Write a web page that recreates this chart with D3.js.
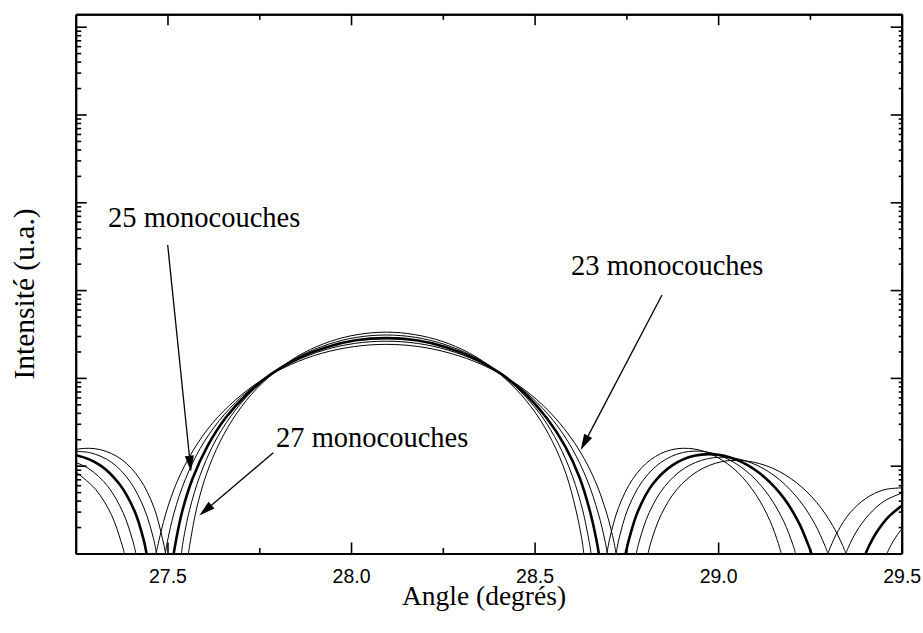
<!DOCTYPE html>
<html><head><meta charset="utf-8">
<script src="https://cdn.jsdelivr.net/npm/d3@7/dist/d3.min.js"></script>
<style>body{margin:0;background:#fff}</style>
</head><body><svg id="c" width="923" height="633"></svg>
<script>
// ---- data (angle in degrees, intensity in arbitrary units), one array of lobes per film thickness ----
const layers=[23,24,25,26,27];
const I23=[
 [[27.248,8.64],[27.304,5.39],[27.347,2.78],[27.373,1.39],[27.383,1]],
 [[27.469,1],[27.476,1.36],[27.495,2.81],[27.526,6.55],[27.569,14.7],[27.622,30.3],[27.686,56.5],[27.757,94.7],[27.836,142],[27.919,190],[28.007,227],[28.096,241],[28.185,227],[28.272,190],[28.356,142],[28.434,94.7],[28.506,56.5],[28.569,30.3],[28.623,14.7],[28.666,6.55],[28.697,2.81],[28.716,1.36],[28.722,1]],
 [[28.809,1],[28.818,1.39],[28.845,2.78],[28.888,5.39],[28.944,8.64],[29.009,11.1],[29.078,11.3],[29.148,9.37],[29.213,6.42],[29.269,3.79],[29.312,2.08],[29.339,1.24],[29.348,1]]
];
const I24=[
 [[27.221,12],[27.284,9.35],[27.338,5.77],[27.379,2.92],[27.405,1.42],[27.414,1]],
 [[27.494,1],[27.5,1.38],[27.518,2.91],[27.548,6.89],[27.589,15.7],[27.641,32.6],[27.702,61],[27.77,103],[27.846,154],[27.926,207],[28.01,247],[28.096,262],[28.181,247],[28.265,207],[28.346,154],[28.421,103],[28.49,61],[28.551,32.6],[28.602,15.7],[28.643,6.89],[28.673,2.91],[28.692,1.38],[28.698,1]],
 [[28.777,1],[28.786,1.42],[28.812,2.92],[28.854,5.77],[28.908,9.35],[28.971,12],[29.038,12.3],[29.106,10.1],[29.168,6.88],[29.222,4],[29.264,2.15],[29.29,1.25],[29.299,1]],
 [[29.46,1],[29.467,1.16],[29.489,1.65],[29.524,2.47]]
];
const I25=[
 [[27.191,13.3],[27.256,13],[27.317,10.1],[27.369,6.18],[27.41,3.06],[27.435,1.44],[27.443,1]],
 [[27.517,1],[27.523,1.39],[27.54,3.01],[27.569,7.25],[27.609,16.7],[27.658,34.9],[27.717,65.6],[27.783,111],[27.855,167],[27.933,224],[28.013,268],[28.096,284],[28.178,268],[28.259,224],[28.336,167],[28.409,111],[28.475,65.6],[28.533,34.9],[28.583,16.7],[28.623,7.25],[28.651,3.01],[28.669,1.39],[28.675,1]],
 [[28.748,1],[28.757,1.44],[28.782,3.06],[28.822,6.18],[28.875,10.1],[28.935,13],[29.001,13.3],[29.066,10.9],[29.127,7.35],[29.18,4.22],[29.22,2.23],[29.245,1.27],[29.254,1]],
 [[29.402,1],[29.409,1.17],[29.43,1.7],[29.464,2.61],[29.509,3.71]]
];
const I26=[
 [[27.225,14.4],[27.288,14.1],[27.348,10.9],[27.398,6.59],[27.437,3.21],[27.462,1.47],[27.47,1]],
 [[27.538,1],[27.543,1.41],[27.56,3.11],[27.588,7.61],[27.626,17.7],[27.674,37.3],[27.73,70.4],[27.794,119],[27.864,180],[27.939,242],[28.016,290],[28.096,308],[28.175,290],[28.253,242],[28.328,180],[28.398,119],[28.461,70.4],[28.518,37.3],[28.565,17.7],[28.603,7.61],[28.631,3.11],[28.648,1.41],[28.654,1]],
 [[28.722,1],[28.73,1.47],[28.754,3.21],[28.793,6.59],[28.844,10.9],[28.903,14.1],[28.967,14.4],[29.03,11.7],[29.089,7.84],[29.14,4.44],[29.179,2.3],[29.203,1.28],[29.211,1]],
 [[29.348,1],[29.355,1.18],[29.376,1.76],[29.41,2.75],[29.453,3.97],[29.504,4.94]]
];
const I27=[
 [[27.195,12.6],[27.257,15.5],[27.318,15.2],[27.376,11.7],[27.425,7.02],[27.463,3.36],[27.486,1.5],[27.495,1]],
 [[27.557,1],[27.563,1.43],[27.579,3.21],[27.606,7.99],[27.643,18.7],[27.689,39.7],[27.743,75.4],[27.805,128],[27.872,194],[27.944,261],[28.019,312],[28.096,332],[28.172,312],[28.248,261],[28.32,194],[28.387,128],[28.448,75.4],[28.503,39.7],[28.549,18.7],[28.586,7.99],[28.612,3.21],[28.629,1.43],[28.634,1]],
 [[28.697,1],[28.705,1.5],[28.729,3.36],[28.767,7.02],[28.816,11.7],[28.873,15.2],[28.935,15.5],[28.996,12.6],[29.054,8.34],[29.103,4.67],[29.141,2.37],[29.164,1.3],[29.172,1]],
 [[29.299,1],[29.306,1.19],[29.327,1.82],[29.359,2.9],[29.402,4.23],[29.451,5.31],[29.504,5.6]]
];
const angleTicks=[27.5,28.0,28.5,29.0,29.5];
const angleMinorTicks=[27.75,28.25,28.75,29.25];
const angleDomain=[27.25,29.5];
const intensityDecades=[1,10,100,1e3,1e4,1e5,1e6];
const intensityDomain=[1,1.384e6];
const annotationTexts=["25 monocouches","23 monocouches","27 monocouches"];
const xTitle="Angle (degrés)", yTitle="Intensité (u.a.)";
const seriesByLayer={23:I23,24:I24,25:I25,26:I26,27:I27};

// ---- drawing ----
const svg=d3.select("#c");
svg.append("rect").attr("width",923).attr("height",633).attr("fill","#fff");
const L=75.7,R=901.7,T=14.3,B=553.5;
const x=d3.scaleLinear().domain(angleDomain).range([L,R]);
const y=d3.scaleLog().domain(intensityDomain).range([B,T]);
svg.append("clipPath").attr("id","cp").append("rect").attr("x",L).attr("y",T).attr("width",R-L).attr("height",B-T);
const line=d3.line().x(d=>x(d[0])).y(d=>y(d[1])).curve(d3.curveCatmullRom.alpha(0.5));
const g=svg.append("g").attr("clip-path","url(#cp)");
const order=layers.filter(n=>n!==25).concat([25]);
for(const N of order){
  g.append("g").selectAll("path").data(seriesByLayer[N]).join("path")
   .attr("d",line).attr("fill","none").attr("stroke","#000")
   .attr("stroke-width",N===25?2.6:1).attr("stroke-linejoin","round");
}

const minorY=[]; for(const d of intensityDecades) for(let m=2;m<=9;m++) if(d*m<intensityDomain[1]) minorY.push(d*m);
function ax(a,vals,size){ return a.tickValues(vals).tickSize(size).tickSizeOuter(0); }
const gb=svg.append("g").attr("transform",`translate(0,${B})`);
gb.call(ax(d3.axisBottom(x),angleTicks,-11).tickPadding(15.5).tickFormat(d3.format(".1f")));
gb.append("g").call(ax(d3.axisBottom(x),angleMinorTicks,-5.5).tickFormat(""));
const gt=svg.append("g").attr("transform",`translate(0,${T})`);
gt.call(ax(d3.axisTop(x),angleTicks,-11).tickFormat(""));
gt.append("g").call(ax(d3.axisTop(x),angleMinorTicks,-5.5).tickFormat(""));
const gl=svg.append("g").attr("transform",`translate(${L},0)`);
gl.call(ax(d3.axisLeft(y),intensityDecades,-11).tickFormat(""));
gl.append("g").call(ax(d3.axisLeft(y),minorY,-5.5).tickFormat(""));
const gr=svg.append("g").attr("transform",`translate(${R},0)`);
gr.call(ax(d3.axisRight(y),intensityDecades,-11).tickFormat(""));
gr.append("g").call(ax(d3.axisRight(y),minorY,-3).tickFormat(""));
svg.selectAll(".domain").attr("stroke","#000").attr("stroke-width",2);
svg.selectAll(".tick line").attr("stroke","#000").attr("stroke-width",1.6);
svg.selectAll(".tick text").attr("font-family","'Liberation Sans',Arial,sans-serif").attr("font-size",19.5).attr("fill","#000");

const serif="'Liberation Serif','Times New Roman',serif";
svg.append("text").attr("x",484).attr("y",605).attr("text-anchor","middle").attr("font-family",serif).attr("font-size",27.5).text(xTitle);
svg.append("text").attr("transform","translate(33.5,294) rotate(-90)").attr("text-anchor","middle").attr("font-family",serif).attr("font-size",29.5).text(yTitle);
const notePos=[[108,227],[571,275],[276,447]];
annotationTexts.forEach((t,i)=>svg.append("text").attr("x",notePos[i][0]).attr("y",notePos[i][1]).attr("font-family",serif).attr("font-size",28.5).text(t));
const arrows=[[167.7,245,191,471.7],[662,295,580.7,450],[273.3,452.7,199.3,515.5]];
for(const [x1,y1,x2,y2] of arrows){
  const ang=Math.atan2(y2-y1,x2-x1), len=16, hw=4.5;
  const bx=x2-len*Math.cos(ang), by=y2-len*Math.sin(ang);
  svg.append("line").attr("x1",x1).attr("y1",y1).attr("x2",bx).attr("y2",by).attr("stroke","#000").attr("stroke-width",1.3);
  svg.append("path").attr("d",`M${x2},${y2}L${bx-hw*Math.sin(ang)},${by+hw*Math.cos(ang)}L${bx+hw*Math.sin(ang)},${by-hw*Math.cos(ang)}Z`).attr("fill","#000");
}
</script></body></html>
